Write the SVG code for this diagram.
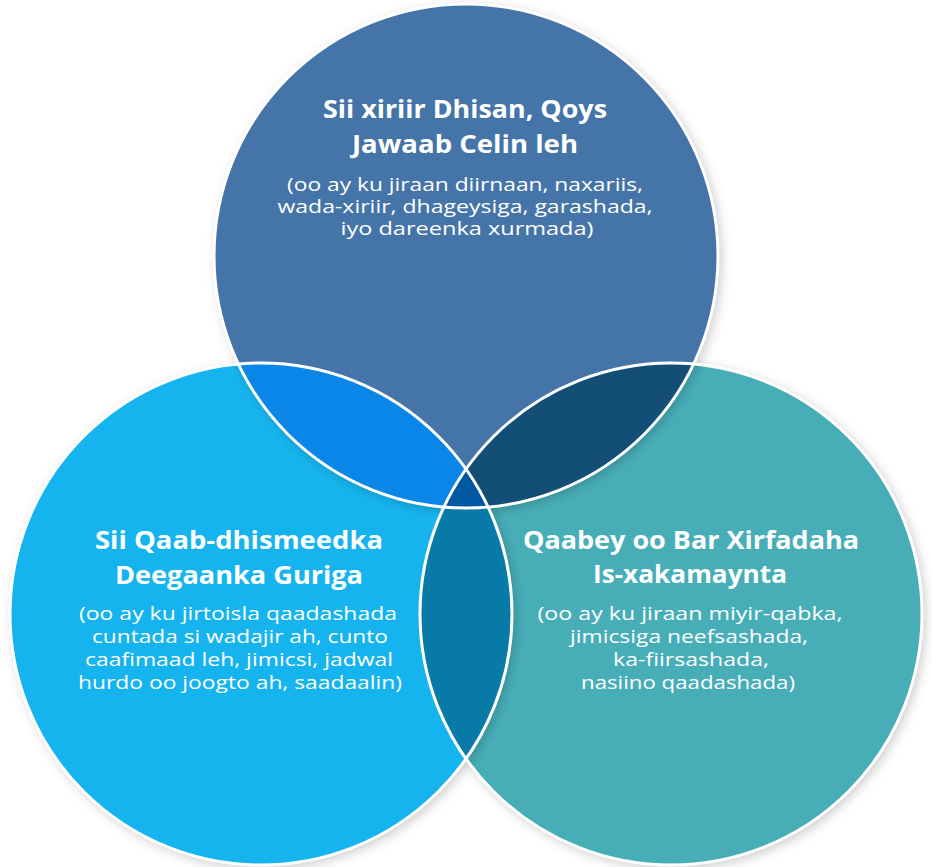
<svg xmlns="http://www.w3.org/2000/svg" width="932" height="867" viewBox="0 0 932 867">
  <style>
    .title { font-family: "Open Sans", "Liberation Sans", sans-serif; font-weight: 700; font-size: 25px; fill: #ffffff; text-anchor: middle; }
    .sub { font-family: "Open Sans", "Liberation Sans", sans-serif; font-weight: 400; font-size: 18.5px; fill: #ffffff; text-anchor: middle; }
    .sub-tight { font-size: 17.5px; }
    .edge { fill: none; stroke: #ffffff; stroke-width: 3; }
  </style>
  <defs>
    <filter id="shadow" x="-10%" y="-10%" width="125%" height="125%">
      <feDropShadow dx="3" dy="3" stdDeviation="6" flood-color="#000000" flood-opacity="0.22"/>
    </filter>
    <clipPath id="clipTop"><circle cx="466" cy="256" r="252"/></clipPath>
    <clipPath id="clipLeft"><circle cx="261" cy="614" r="251"/></clipPath>
    <clipPath id="clipRight"><circle cx="671" cy="614" r="251"/></clipPath>
  </defs>

  <rect width="932" height="867" fill="#ffffff"/>

  <!-- base circles, stacked with soft shadows -->
  <g id="circle-right">
    <circle cx="671" cy="614" r="251" fill="#47AEB8" filter="url(#shadow)"/>
  </g>
  <g id="circle-left">
    <circle cx="261" cy="614" r="251" fill="#18B4EE" filter="url(#shadow)"/>
  </g>
  <g id="circle-top">
    <circle cx="466" cy="256" r="252" fill="#4475A8" filter="url(#shadow)"/>
  </g>

  <!-- overlap regions -->
  <g id="overlaps">
    <g clip-path="url(#clipTop)">
      <circle cx="261" cy="614" r="251" fill="#0A86E8"/>
      <circle cx="671" cy="614" r="251" fill="#134E76"/>
    </g>
    <g clip-path="url(#clipLeft)">
      <circle cx="671" cy="614" r="251" fill="#087AA8"/>
    </g>
    <g clip-path="url(#clipLeft)">
      <g clip-path="url(#clipRight)">
        <circle cx="466" cy="256" r="252" fill="#0058A2"/>
      </g>
    </g>
  </g>

  <!-- white outlines -->
  <g id="outlines">
    <circle class="edge" cx="466" cy="256" r="252"/>
    <circle class="edge" cx="261" cy="614" r="251"/>
    <circle class="edge" cx="671" cy="614" r="251"/>
  </g>

  <g id="label-top">
    <text class="title" x="465" y="118" textLength="284" lengthAdjust="spacingAndGlyphs">Sii xiriir Dhisan, Qoys</text>
    <text class="title" x="465" y="153" textLength="226" lengthAdjust="spacingAndGlyphs">Jawaab Celin leh</text>
    <text class="sub sub-tight" x="465" y="191" textLength="356" lengthAdjust="spacingAndGlyphs">(oo ay ku jiraan diirnaan, naxariis,</text>
    <text class="sub sub-tight" x="465" y="213" textLength="375" lengthAdjust="spacingAndGlyphs">wada-xiriir, dhageysiga, garashada,</text>
    <text class="sub sub-tight" x="467" y="235" textLength="253" lengthAdjust="spacingAndGlyphs">iyo dareenka xurmada)</text>
  </g>

  <g id="label-left">
    <text class="title" x="239" y="549" textLength="288" lengthAdjust="spacingAndGlyphs">Sii Qaab-dhismeedka</text>
    <text class="title" x="239" y="584" textLength="248" lengthAdjust="spacingAndGlyphs">Deegaanka Guriga</text>
    <text class="sub" x="238" y="620" textLength="318" lengthAdjust="spacingAndGlyphs">(oo ay ku jirtoisla qaadashada</text>
    <text class="sub" x="240" y="643" textLength="296" lengthAdjust="spacingAndGlyphs">cuntada si wadajir ah, cunto</text>
    <text class="sub" x="239" y="666" textLength="308" lengthAdjust="spacingAndGlyphs">caafimaad leh, jimicsi, jadwal</text>
    <text class="sub" x="240" y="689" textLength="324" lengthAdjust="spacingAndGlyphs">hurdo oo joogto ah, saadaalin)</text>
  </g>

  <g id="label-right">
    <text class="title" x="691" y="549" textLength="336" lengthAdjust="spacingAndGlyphs">Qaabey oo Bar Xirfadaha</text>
    <text class="title" x="690" y="583" textLength="194" lengthAdjust="spacingAndGlyphs">Is-xakamaynta</text>
    <text class="sub" x="690" y="620" textLength="305" lengthAdjust="spacingAndGlyphs">(oo ay ku jiraan miyir-qabka,</text>
    <text class="sub" x="689" y="643" textLength="238" lengthAdjust="spacingAndGlyphs">jimicsiga neefsashada,</text>
    <text class="sub" x="691" y="666" textLength="156" lengthAdjust="spacingAndGlyphs">ka-fiirsashada,</text>
    <text class="sub" x="688" y="689" textLength="214" lengthAdjust="spacingAndGlyphs">nasiino qaadashada)</text>
  </g>
</svg>
